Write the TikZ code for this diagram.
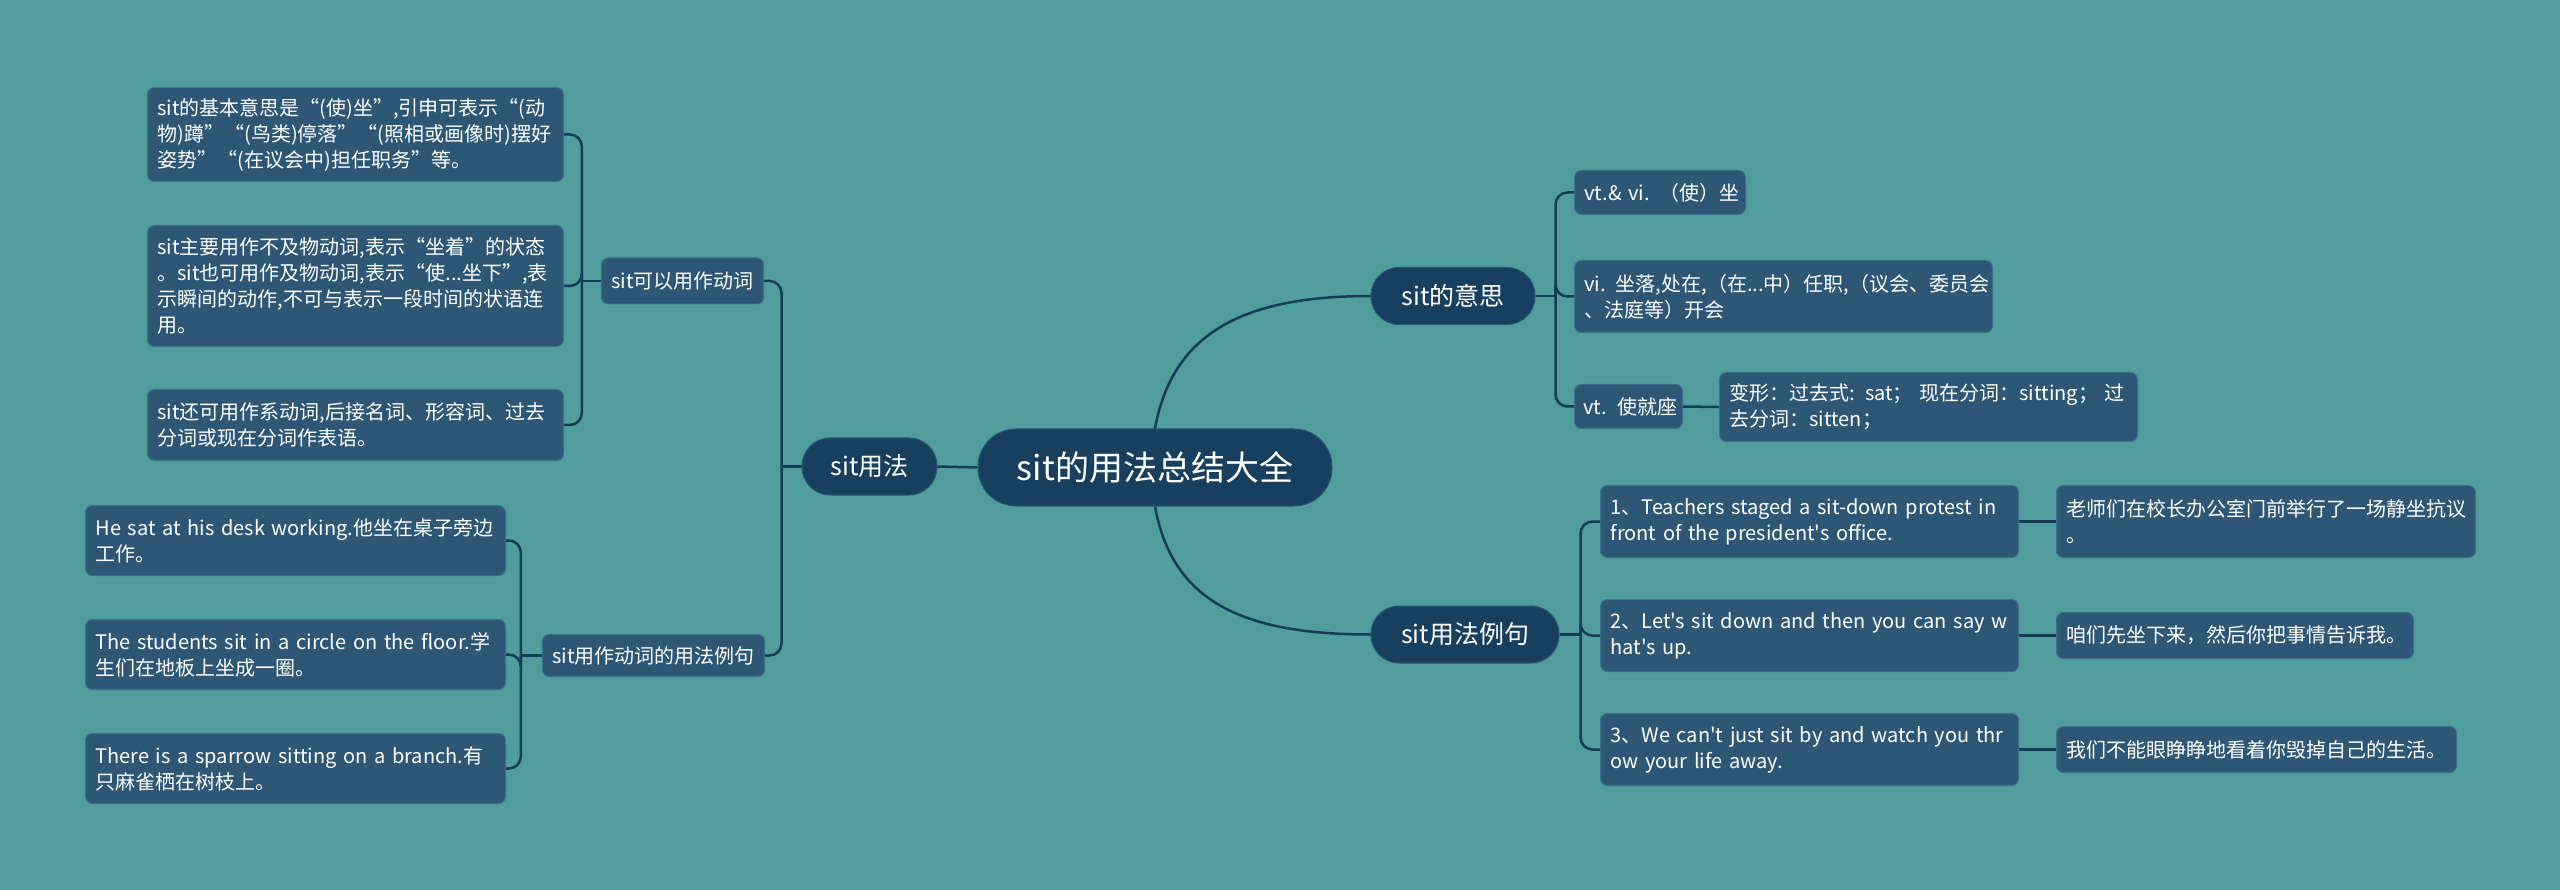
\documentclass[tikz,border=0pt]{standalone}
\usepackage{fontspec}
\setmainfont{Noto Sans CJK SC}[Ligatures=TeXOff]
\definecolor{bg}{HTML}{4F9D9D}
\definecolor{leaffill}{HTML}{2E5776}
\definecolor{leafline}{HTML}{3E6E8C}
\definecolor{pillfill}{HTML}{183F5E}
\definecolor{pillline}{HTML}{2A5675}
\definecolor{linkc}{HTML}{173A55}
\begin{document}
\begin{tikzpicture}[x=1pt,y=-1pt,
  leaf/.style={draw=leafline, fill=leaffill, rounded corners=7pt, line width=1pt, text=white,
    font=\fontsize{20}{26}\selectfont, inner xsep=10pt, inner ysep=4pt, align=left, anchor=north west},
  pill/.style={draw=pillline, fill=pillfill, rounded corners=28pt, line width=1pt, text=white,
    font=\fontsize{25}{29}\selectfont, inner sep=0pt, anchor=center},
  link/.style={draw=linkc, line width=2.5pt, rounded corners=12pt},
  stub/.style={draw=linkc, line width=2.5pt}]
\fill[bg] (0,0) rectangle (2560,890);
\useasboundingbox (0,0) rectangle (2560,890);

% central and first level
\node[pill, rounded corners=38pt, minimum width=354pt, minimum height=77pt, font=\fontsize{34}{38}\selectfont] (root) at (1155,467.5) {sit的用法总结大全};
\node[pill, minimum width=135pt, minimum height=57pt] (usage) at (869.5,466.5) {sit用法};
\node[pill, minimum width=164pt, minimum height=57pt] (meaning) at (1453,296) {sit的意思};
\node[pill, minimum width=188pt, minimum height=57pt] (examples) at (1465,634.5) {sit用法例句};

% left second level
\node[leaf, anchor=center, minimum width=161pt, minimum height=46pt] (verb) at (682.5,281) {sit可以用作动词};
\node[leaf, anchor=center, minimum width=219pt, minimum height=42pt] (verbex) at (653.5,655.5) {sit用作动词的用法例句};

% left leaves
\node[leaf, text width=396pt, minimum height=94pt] (l1) at (147,87) {\mbox{sit的基本意思是“(使)坐”,引申可表示“(动}\\\mbox{物)蹲”“(鸟类)停落”“(照相或画像时)摆好}\\\mbox{姿势”“(在议会中)担任职务”等。}};
\node[leaf, text width=396pt, minimum height=121pt] (l2) at (147,225) {\mbox{sit主要用作不及物动词,表示“坐着”的状态}\\\mbox{。sit也可用作及物动词,表示“使...坐下”,表}\\\mbox{示瞬间的动作,不可与表示一段时间的状语连}\\\mbox{用。}};
\node[leaf, text width=396pt, minimum height=71pt] (l3) at (147,389) {\mbox{sit还可用作系动词,后接名词、形容词、过去}\\\mbox{分词或现在分词作表语。}};

\node[leaf, text width=400pt, minimum height=70pt] (e1) at (85,505) {\mbox{He sat at his desk working.他坐在桌子旁边}\\\mbox{工作。}};
\node[leaf, text width=400pt, minimum height=70pt] (e2) at (85,619) {\mbox{The students sit in a circle on the floor.学}\\\mbox{生们在地板上坐成一圈。}};
\node[leaf, text width=400pt, minimum height=70pt] (e3) at (85,733) {\mbox{There is a sparrow sitting on a branch.有}\\\mbox{只麻雀栖在树枝上。}};

% right: meaning
\node[leaf, text width=151pt, minimum height=44pt] (m1) at (1574,170) {\mbox{vt.\& vi. （使）坐}};
\node[leaf, text width=398pt, minimum height=72pt] (m2) at (1574,260) {\mbox{vi. 坐落,处在,（在...中）任职,（议会、委员会}\\\mbox{、法庭等）开会}};
\node[leaf, text width=90pt, inner xsep=9pt, minimum height=44pt] (m3) at (1574,384) {\mbox{vt. 使就座}};
\node[leaf, text width=398pt, minimum height=69pt] (m4) at (1719,372) {\mbox{变形：过去式: sat； 现在分词：sitting； 过}\\\mbox{去分词：sitten；}};

% right: examples
\node[leaf, text width=398pt, minimum height=72pt] (x1) at (1600,485) {\mbox{1、Teachers staged a sit-down protest in}\\\mbox{front of the president's office.}};
\node[leaf, text width=398pt, minimum height=72pt] (x2) at (1600,599) {\mbox{2、Let's sit down and then you can say w}\\\mbox{hat's up.}};
\node[leaf, text width=398pt, minimum height=72pt] (x3) at (1600,713) {\mbox{3、We can't just sit by and watch you thr}\\\mbox{ow your life away.}};

\node[leaf, text width=399pt, minimum height=72pt] (t1) at (2056,485) {\mbox{老师们在校长办公室门前举行了一场静坐抗议}\\\mbox{。}};
\node[leaf, text width=337pt, minimum height=46pt] (t2) at (2056,612) {\mbox{咱们先坐下来，然后你把事情告诉我。}};
\node[leaf, text width=380pt, minimum height=46pt] (t3) at (2056,726) {\mbox{我们不能眼睁睁地看着你毁掉自己的生活。}};

% junction points
\coordinate (ju) at ([xshift=-20pt]usage.west);
\coordinate (jv) at ([xshift=-19pt]verb.west);
\coordinate (jx) at ([xshift=-21pt]verbex.west);
\coordinate (jm) at ([xshift=20pt]meaning.east);
\coordinate (je) at ([xshift=21pt]examples.east);

% connectors
\draw[stub] (root.west) -- (usage.east);
\draw[link] (root.north) .. controls (1172,335) and (1240,296) .. (meaning.west);
\draw[link] (root.south) .. controls (1172,600) and (1240,634.5) .. (examples.west);

\draw[stub] (usage.west) -- (ju);
\draw[link] (ju) |- (verb.east);
\draw[link] (ju) |- (verbex.east);

\draw[stub] (verb.west) -- (jv);
\draw[link] (jv) |- (l1.east);
\draw[link] (jv) |- (l2.east);
\draw[link] (jv) |- (l3.east);

\draw[stub] (verbex.west) -- (jx);
\draw[link] (jx) |- (e1.east);
\draw[link] (jx) |- (e2.east);
\draw[link] (jx) |- (e3.east);

\draw[stub] (meaning.east) -- (jm);
\draw[link] (jm) |- (m1.west);
\draw[link] (jm) |- (m2.west);
\draw[link] (jm) |- (m3.west);
\draw[stub] (m3.east) -- (m4.west);

\draw[stub] (examples.east) -- (je);
\draw[link] (je) |- (x1.west);
\draw[link] (je) |- (x2.west);
\draw[link] (je) |- (x3.west);

\draw[stub] (x1.east) -- (t1.west);
\draw[stub] (x2.east) -- (t2.west);
\draw[stub] (x3.east) -- (t3.west);
\end{tikzpicture}
\end{document}
